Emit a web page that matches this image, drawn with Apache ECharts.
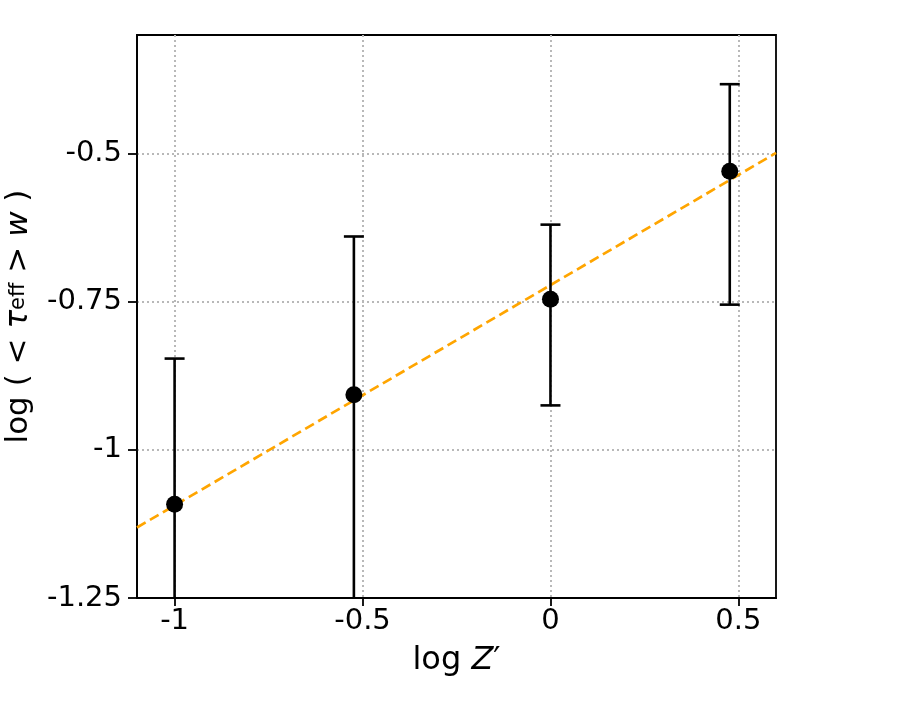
<!DOCTYPE html>
<html>
<head>
<meta charset="utf-8">
<script src="https://cdn.jsdelivr.net/npm/echarts@6/dist/echarts.min.js"></script>
<style>html,body{margin:0;padding:0;background:#fff;}#c{width:913px;height:703px;}</style>
</head>
<body>
<div id="c"></div>
<script>
// ---- data ----
const xVals = [-1.0, -0.523, 0.0, 0.477];
const yVals = [-1.092, -0.907, -0.746, -0.530];
const errLow = [-1.40, -1.32, -0.925, -0.755];
const errHigh = [-0.846, -0.640, -0.620, -0.383];
const fitX = [-1.1, 0.6];
const fitY = [-1.131, -0.499];
const xTicks = [-1, -0.5, 0, 0.5];
const yTicks = [-1.25, -1, -0.75, -0.5];

const FONT = 'DejaVu Sans';
const chart = echarts.init(document.getElementById('c'), null, {renderer: 'canvas'});

const errData = xVals.map((x, i) => [x, yVals[i], errLow[i], errHigh[i]]);
const ptData = xVals.map((x, i) => [x, yVals[i]]);
const fitData = fitX.map((x, i) => [x, fitY[i]]);

function renderErr(params, api) {
  const x = api.value(0);
  const lo = api.value(2), hi = api.value(3);
  const cs = params.coordSys;
  const pLo = api.coord([x, lo]);
  const pHi = api.coord([x, hi]);
  const yTop = cs.y, yBot = cs.y + cs.height;
  const clampY = v => Math.max(yTop, Math.min(yBot, v));
  const style = {stroke: '#000', lineWidth: 2.6};
  const children = [{
    type: 'line', shape: {x1: pLo[0], y1: clampY(pLo[1]), x2: pHi[0], y2: clampY(pHi[1])}, style: style
  }];
  const half = 10;
  [pLo, pHi].forEach(p => {
    if (p[1] >= yTop && p[1] <= yBot) {
      children.push({type: 'line', shape: {x1: p[0] - half, y1: p[1], x2: p[0] + half, y2: p[1]}, style: style});
    }
  });
  return {type: 'group', children: children};
}

const option = {
  animation: false,
  backgroundColor: '#fff',
  grid: {
    left: 137, right: 137, top: 35, bottom: 105,
    containLabel: false, outerBoundsMode: 'none',
    show: true, borderColor: '#000', borderWidth: 1.8, backgroundColor: 'transparent'
  },
  xAxis: {
    type: 'value', min: -1.1, max: 0.6,
    name: '{n|log }{i|Z}{n|′}',
    nameLocation: 'middle', nameGap: 47,
    nameTextStyle: {
      rich: {
        n: {fontFamily: FONT, fontSize: 32, color: '#000'},
        i: {fontFamily: FONT, fontSize: 32, fontStyle: 'italic', color: '#000'}
      }
    },
    axisLine: {show: true, onZero: false, lineStyle: {color: '#000', width: 1.8}},
    axisTick: {show: true, inside: false, length: 8, customValues: xTicks, lineStyle: {color: '#000', width: 1.8}},
    axisLabel: {
      customValues: xTicks, margin: 9, color: '#000', fontFamily: FONT, fontSize: 29,
      formatter: v => String(v)
    },
    splitLine: {show: true, lineStyle: {color: '#b8b8b8', width: 2, type: [2, 3]}}
  },
  yAxis: {
    type: 'value', min: -1.25, max: -0.3,
    name: '{n|log ( < }{i|τ}{s|eff}{n| > }{i|w}{n| )}',
    nameLocation: 'middle', nameGap: 96, nameRotate: 90,
    nameTextStyle: {
      rich: {
        n: {fontFamily: FONT, fontSize: 31, color: '#000', height: 44, verticalAlign: 'middle'},
        i: {fontFamily: FONT, fontSize: 31, fontStyle: 'italic', color: '#000', height: 44, verticalAlign: 'middle'},
        s: {fontFamily: FONT, fontSize: 21, color: '#000', height: 44, verticalAlign: 'bottom'}
      }
    },
    axisLine: {show: true, onZero: false, lineStyle: {color: '#000', width: 1.8}},
    axisTick: {show: true, inside: false, length: 9, customValues: yTicks, lineStyle: {color: '#000', width: 1.8}},
    axisLabel: {
      customValues: yTicks, margin: 15, color: '#000', fontFamily: FONT, fontSize: 29,
      formatter: v => String(v)
    },
    splitLine: {show: true, lineStyle: {color: '#b8b8b8', width: 2, type: [2, 3]}}
  },
  series: [
    {
      type: 'line', data: fitData, showSymbol: false, symbol: 'none',
      lineStyle: {color: '#FFA500', width: 2.7, type: [10, 5]},
      z: 2, silent: true
    },
    {
      type: 'custom', renderItem: renderErr, data: errData,
      encode: {x: 0, y: [1, 2, 3]}, z: 3, silent: true
    },
    {
      type: 'scatter', data: ptData, symbol: 'circle', symbolSize: 17,
      itemStyle: {color: '#000', opacity: 1}, z: 4, silent: true
    }
  ]
};
chart.setOption(option);
</script>
</body>
</html>
